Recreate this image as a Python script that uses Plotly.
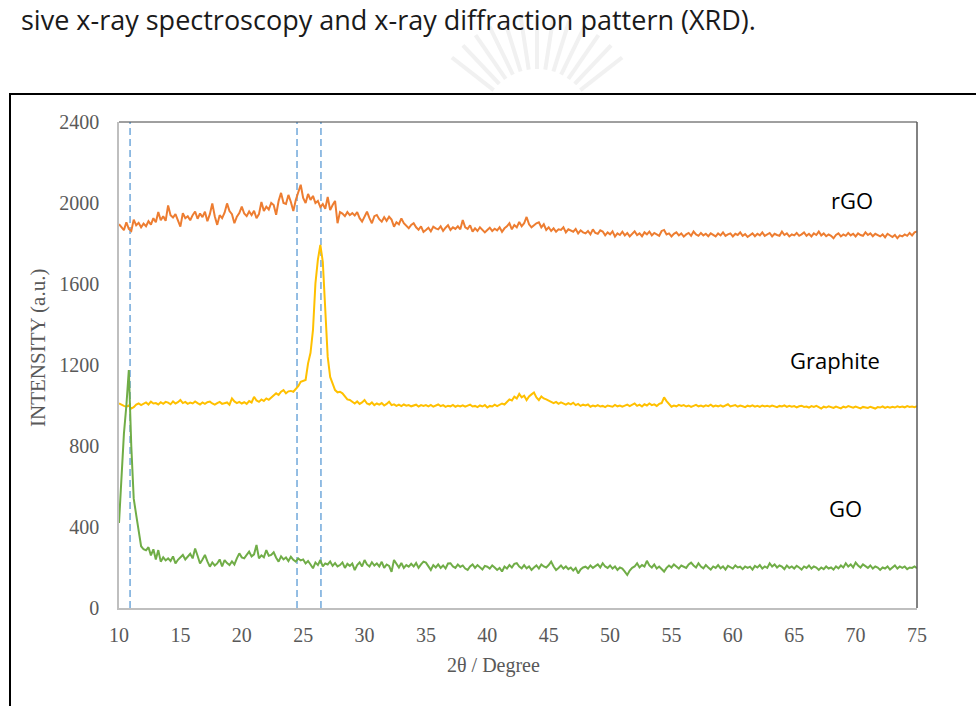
import math
import plotly.graph_objects as go

# ---------------------------------------------------------------------------
# XRD scans: intensity (a.u.) sampled every 0.2 degrees of 2-theta, 10 -> 75
# ---------------------------------------------------------------------------
TWO_THETA_START = 10.0
TWO_THETA_STEP = 0.2

RGO = [
    1895, 1880, 1866, 1905, 1872,  # 10
    1862, 1918, 1890, 1902, 1880,  # 11
    1898, 1885, 1910, 1893, 1925,  # 12
    1905, 1955, 1915, 1935, 1912,  # 13
    1988, 1940, 1928, 1945, 1915,  # 14
    1883, 1950, 1925, 1935, 1915,  # 15
    1940, 1958, 1922, 1948, 1930,  # 16
    1957, 1910, 1945, 1998, 1935,  # 17
    1892, 1940, 1925, 1952, 1998,  # 18
    1960, 1945, 1900, 1932, 1950,  # 19
    1982, 1948, 1935, 1958, 1940,  # 20
    1962, 1925, 1945, 2005, 1960,  # 21
    1982, 1968, 2000, 1990, 1942,  # 22
    2010, 2050, 2000, 1995, 2040,  # 23
    2005, 1960, 2015, 2055, 2090,  # 24
    2025, 2000, 2045, 2015, 2035,  # 25
    2000, 2010, 1980, 1995, 1972,  # 26
    2030, 1965, 1990, 2010, 1900,  # 27
    1955, 1948, 1935, 1955, 1940,  # 28
    1950, 1938, 1955, 1925, 1908,  # 29
    1930, 1957, 1925, 1900, 1935,  # 30
    1941, 1920, 1908, 1930, 1912,  # 31
    1932, 1918, 1883, 1905, 1895,  # 32
    1924, 1900, 1888, 1875, 1892,  # 33
    1900, 1880, 1868, 1885, 1857,  # 34
    1867, 1878, 1860, 1883, 1875,  # 35
    1870, 1885, 1862, 1878, 1890,  # 36
    1867, 1880, 1872, 1885, 1870,  # 37
    1916, 1880, 1872, 1890, 1859,  # 38
    1875, 1862, 1880, 1868, 1855,  # 39
    1867, 1878, 1862, 1873, 1865,  # 40
    1880, 1858, 1875, 1885, 1900,  # 41
    1870, 1891, 1880, 1906, 1885,  # 42
    1900, 1931, 1895, 1880, 1891,  # 43
    1900, 1905, 1880, 1895, 1867,  # 44
    1880, 1862, 1875, 1858, 1870,  # 45
    1867, 1880, 1855, 1870, 1862,  # 46
    1858, 1872, 1850, 1865, 1855,  # 47
    1850, 1862, 1845, 1870, 1852,  # 48
    1848, 1865, 1859, 1840, 1855,  # 49
    1845, 1860, 1834, 1850, 1842,  # 50
    1858, 1840, 1852, 1835, 1848,  # 51
    1860, 1842, 1850, 1836, 1855,  # 52
    1845, 1859, 1840, 1852, 1845,  # 53
    1838, 1862, 1867, 1845, 1850,  # 54
    1835, 1848, 1855, 1840, 1850,  # 55
    1834, 1845, 1852, 1838, 1859,  # 56
    1845, 1838, 1852, 1840, 1848,  # 57
    1836, 1850, 1842, 1835, 1850,  # 58
    1840, 1855, 1838, 1845, 1850,  # 59
    1835, 1848, 1842, 1855, 1838,  # 60
    1846, 1832, 1842, 1850, 1836,  # 61
    1848, 1840, 1855, 1838, 1845,  # 62
    1852, 1835, 1848, 1842, 1838,  # 63
    1859, 1842, 1850, 1835, 1845,  # 64
    1840, 1852, 1838, 1845, 1855,  # 65
    1838, 1848, 1835, 1850, 1842,  # 66
    1859, 1840, 1850, 1836, 1845,  # 67
    1838, 1826, 1842, 1850, 1835,  # 68
    1845, 1838, 1852, 1840, 1848,  # 69
    1835, 1850, 1842, 1838, 1855,  # 70
    1842, 1850, 1836, 1848, 1840,  # 71
    1835, 1845, 1830, 1848, 1840,  # 72
    1832, 1842, 1826, 1840, 1835,  # 73
    1845, 1838, 1852, 1840, 1855,  # 74
    1859,                          # 75
]

GRAPHITE = [
    1010, 1002, 998, 994, 1000,    # 10
    985, 992, 1005, 1010, 1002,    # 11
    1008, 1015, 1005, 1019, 1010,  # 12
    1012, 1005, 1016, 1008, 1018,  # 13
    1014, 1006, 1020, 1010, 1016,  # 14
    1027, 1012, 1018, 1008, 1014,  # 15
    1010, 1020, 1012, 1005, 1015,  # 16
    1008, 1016, 1019, 1010, 1004,  # 17
    1012, 1018, 1008, 1010, 1015,  # 18
    1004, 1035, 1020, 1012, 1018,  # 19
    1010, 1016, 1008, 1022, 1015,  # 20
    1043, 1025, 1018, 1030, 1022,  # 21
    1035, 1028, 1040, 1050, 1060,  # 22
    1052, 1068, 1076, 1060, 1070,  # 23
    1072, 1068, 1080, 1095, 1117,  # 24
    1120, 1126, 1208, 1260, 1373,  # 25
    1603, 1720, 1793, 1710, 1455,  # 26
    1240, 1141, 1105, 1076, 1065,  # 27
    1068, 1060, 1045, 1030, 1027,  # 28
    1018, 1010, 1020, 1008, 1015,  # 29
    1027, 1010, 1005, 1015, 1002,  # 30
    1010, 1004, 1012, 1000, 1008,  # 31
    1019, 1002, 1006, 998, 1004,   # 32
    997, 1005, 999, 1002, 996,     # 33
    1000, 1004, 995, 1002, 998,    # 34
    1002, 996, 1003, 994, 1000,    # 35
    1005, 997, 1002, 993, 999,     # 36
    996, 1003, 994, 1000, 995,     # 37
    1001, 994, 999, 1004, 995,     # 38
    998, 992, 1000, 995, 1002,     # 39
    990, 998, 995, 1004, 997,      # 40
    1003, 1010, 1005, 1020, 1030,  # 41
    1025, 1044, 1035, 1057, 1040,  # 42
    1048, 1027, 1045, 1055, 1064,  # 43
    1040, 1027, 1045, 1035, 1030,  # 44
    1025, 1020, 1012, 1018, 1008,  # 45
    1015, 1010, 1004, 1012, 1006,  # 46
    1014, 1002, 1008, 998, 1004,   # 47
    1000, 1005, 994, 1000, 996,    # 48
    1002, 995, 998, 992, 1000,     # 49
    997, 994, 1003, 996, 1000,     # 50
    994, 999, 1004, 997, 1002,     # 51
    1010, 998, 1004, 995, 1006,    # 52
    1000, 1010, 1002, 1006, 998,   # 53
    1008, 1012, 1040, 1022, 1005,  # 54
    994, 1000, 996, 1003, 998,     # 55
    1002, 995, 1000, 993, 998,     # 56
    1003, 996, 1000, 994, 1001,    # 57
    997, 1004, 995, 1000, 996,     # 58
    1001, 994, 999, 1006, 995,     # 59
    998, 1002, 994, 1000, 996,     # 60
    992, 999, 995, 1001, 994,      # 61
    998, 993, 1000, 995, 999,      # 62
    994, 1000, 996, 992, 998,      # 63
    995, 1001, 993, 998, 994,      # 64
    997, 991, 996, 999, 993,       # 65
    995, 990, 997, 993, 998,       # 66
    992, 985, 994, 990, 996,       # 67
    993, 988, 995, 990, 986,       # 68
    994, 990, 997, 992, 989,       # 69
    995, 991, 986, 993, 990,       # 70
    988, 994, 990, 985, 992,       # 71
    990, 996, 988, 993, 989,       # 72
    994, 990, 996, 992, 995,       # 73
    991, 997, 993, 995, 992,       # 74
    996,                           # 75
]

GO = [
    420, 640, 860, 1000, 1175,     # 10
    800, 540, 460, 370, 305,       # 11
    290, 285, 300, 260, 290,       # 12
    240, 286, 229, 250, 235,       # 13
    245, 232, 255, 220, 238,       # 14
    250, 262, 240, 255, 268,       # 15
    245, 294, 258, 220, 240,       # 16
    262, 230, 204, 225, 210,       # 17
    220, 240, 205, 237, 222,       # 18
    212, 230, 215, 245, 270,       # 19
    250, 245, 262, 278, 255,       # 20
    265, 311, 245, 260, 250,       # 21
    286, 258, 262, 275, 248,       # 22
    229, 255, 240, 250, 232,       # 23
    253, 238, 229, 245, 235,       # 24
    240, 220, 232, 215, 196,       # 25
    225, 212, 237, 205, 220,       # 26
    215, 230, 208, 222, 205,       # 27
    212, 225, 198, 218, 208,       # 28
    220, 187, 212, 225, 205,       # 29
    237, 215, 205, 226, 210,       # 30
    220, 205, 228, 198, 215,       # 31
    208, 179, 237, 215, 200,       # 32
    222, 198, 212, 204, 218,       # 33
    205, 222, 198, 215, 229,       # 34
    224, 205, 188, 212, 200,       # 35
    215, 198, 210, 195, 220,       # 36
    221, 205, 198, 215, 203,       # 37
    210, 195, 188, 205, 215,       # 38
    198, 212, 200, 190, 208,       # 39
    204, 195, 210, 200, 188,       # 40
    198, 180, 205, 195, 212,       # 41
    200, 218, 221, 205, 196,       # 42
    212, 196, 205, 188, 200,       # 43
    210, 195, 215, 205, 200,       # 44
    212, 229, 205, 188, 198,       # 45
    210, 195, 205, 192, 200,       # 46
    185, 198, 171, 190, 200,       # 47
    204, 195, 210, 198, 205,       # 48
    215, 200, 221, 205, 198,       # 49
    210, 195, 205, 188, 200,       # 50
    195, 180, 163, 185, 198,       # 51
    205, 221, 200, 212, 205,       # 52
    233, 210, 200, 215, 195,       # 53
    205, 190, 180, 198, 210,       # 54
    200, 215, 205, 195, 210,       # 55
    205, 198, 215, 224, 210,       # 56
    200, 221, 205, 196, 212,       # 57
    200, 190, 205, 198, 212,       # 58
    196, 205, 190, 208, 200,       # 59
    195, 210, 200, 204, 192,       # 60
    205, 198, 204, 190, 208,       # 61
    200, 212, 195, 205, 198,       # 62
    221, 205, 215, 200, 210,       # 63
    204, 192, 210, 198, 205,       # 64
    195, 208, 200, 190, 205,       # 65
    198, 210, 195, 205, 200,       # 66
    188, 200, 192, 205, 195,       # 67
    200, 190, 205, 196, 210,       # 68
    200, 221, 205, 215, 200,       # 69
    224, 210, 200, 215, 205,       # 70
    198, 210, 195, 205, 200,       # 71
    188, 200, 195, 205, 190,       # 72
    200, 210, 195, 205, 198,       # 73
    205, 192, 200, 198, 205,       # 74
    196,                           # 75
]

SERIES_NAMES = ["rGO", "Graphite", "GO"]
SERIES_COLORS = ["#ed7d31", "#ffc000", "#70ad47"]

# reference 2-theta positions marked with dashed guides
GUIDE_ANGLES = [10.9, 24.5, 26.45]

X_TICKS = [10, 15, 20, 25, 30, 35, 40, 45, 50, 55, 60, 65, 70, 75]
Y_TICKS = [0, 400, 800, 1200, 1600, 2000, 2400]

for vals in (RGO, GRAPHITE, GO):
    assert len(vals) == 326

# ---------------------------------------------------------------------------
# page geometry (pixels) of the plotting area
# ---------------------------------------------------------------------------
W, H = 976, 706
PL, PR, PT, PB = 119, 917, 122, 608


def fx(px):
    return (px - PL) / (PR - PL)


def fy(py):
    return (PB - py) / (PB - PT)


SERIF = "Liberation Serif, Times New Roman, serif"
SANS = "Open Sans, Noto Sans, sans-serif"
GREY_TEXT = "#595959"

fig = go.Figure()
for name, vals, color in zip(SERIES_NAMES, [RGO, GRAPHITE, GO], SERIES_COLORS):
    fig.add_trace(go.Scatter(
        y=vals, x0=TWO_THETA_START, dx=TWO_THETA_STEP,
        mode="lines", name=name,
        line=dict(color=color, width=2),
    ))

shapes = []
# dashed guides
for a in GUIDE_ANGLES:
    shapes.append(dict(type="line", xref="x", yref="y", x0=a, x1=a,
                       y0=Y_TICKS[0], y1=Y_TICKS[-1],
                       line=dict(color="#5b9bd5", width=1.3, dash="7px,4px"),
                       layer="below"))
# top and right edges of the plot frame
shapes.append(dict(type="line", xref="paper", yref="paper", x0=0, x1=1, y0=1, y1=1,
                   line=dict(color="#404040", width=1)))
shapes.append(dict(type="line", xref="paper", yref="paper", x0=1, x1=1, y0=0, y1=1,
                   line=dict(color="#595959", width=1.5)))
# outer chart border
shapes.append(dict(type="rect", xref="paper", yref="paper",
                   x0=fx(10), x1=fx(985), y0=fy(715), y1=fy(94),
                   line=dict(color="black", width=2), fillcolor="rgba(0,0,0,0)"))

# faint emblem rays above the chart border
cx, cy = 537, 124
for k in range(13):
    ang = math.radians(38 + k * (104 / 12))
    r0, r1 = 55, 108
    shapes.append(dict(type="line", xref="paper", yref="paper",
                       x0=fx(cx + r0 * math.cos(ang)), y0=fy(cy - r0 * math.sin(ang)),
                       x1=fx(cx + r1 * math.cos(ang)), y1=fy(cy - r1 * math.sin(ang)),
                       line=dict(color="#f1f1f1", width=4), layer="below"))

annotations = [
    dict(text="rGO", x=fx(852), y=fy(200), font=dict(family=SANS, size=22, color="black")),
    dict(text="Graphite", x=fx(835), y=fy(360), font=dict(family=SANS, size=22, color="black")),
    dict(text="GO", x=fx(845), y=fy(508), font=dict(family=SANS, size=22, color="black")),
    dict(text="INTENSITY (a.u.)", x=fx(38), y=fy(348), textangle=-90,
         font=dict(family=SERIF, size=21, color=GREY_TEXT)),
    dict(text="2θ / Degree", x=fx(493), y=fy(665),
         font=dict(family=SERIF, size=20, color=GREY_TEXT)),
    dict(text="sive x-ray spectroscopy and x-ray diffraction pattern (XRD).",
         x=fx(757), y=fy(0), xanchor="right", yanchor="top", borderpad=0,
         font=dict(family=SANS, size=27, color="#1a1a1a")),
]
for a in annotations:
    a.setdefault("xref", "paper")
    a.setdefault("yref", "paper")
    a.setdefault("showarrow", False)
    a.setdefault("xanchor", "center")
    a.setdefault("yanchor", "middle")

fig.update_layout(
    width=W, height=H,
    margin=dict(l=PL, r=W - PR, t=PT, b=H - PB, pad=0),
    paper_bgcolor="white", plot_bgcolor="white",
    showlegend=False,
    shapes=shapes, annotations=annotations,
    xaxis=dict(range=[X_TICKS[0], X_TICKS[-1]], tickvals=X_TICKS,
               showgrid=False, zeroline=False, showline=True,
               linecolor="#bfbfbf", linewidth=2, ticks="",
               ticklabelstandoff=8,
               tickfont=dict(family=SERIF, size=20, color=GREY_TEXT)),
    yaxis=dict(range=[Y_TICKS[0], Y_TICKS[-1]], tickvals=Y_TICKS,
               showgrid=False, zeroline=False, showline=True,
               linecolor="#bfbfbf", linewidth=1.5, ticks="",
               ticklabelstandoff=14,
               tickfont=dict(family=SERIF, size=20, color=GREY_TEXT)),
)

fig.write_html("out.html")
